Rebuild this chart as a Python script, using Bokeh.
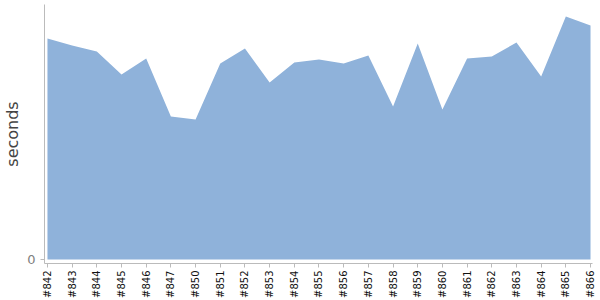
import math
from bokeh.plotting import figure
from bokeh.models import Range1d, FixedTicker, ColumnDataSource
from bokeh.embed import file_html
from bokeh.resources import INLINE

builds = ["#842", "#843", "#844", "#845", "#846", "#847", "#850", "#851", "#852",
          "#853", "#854", "#855", "#856", "#857", "#858", "#859", "#860", "#861",
          "#862", "#863", "#864", "#865", "#866"]
seconds = [221, 214, 208, 185, 201, 143, 140, 196, 211, 177, 197, 200, 196, 204,
           153, 216, 150, 201, 203, 217, 183, 243, 234]

xs = list(range(len(builds)))
src = ColumnDataSource(dict(x=xs, y=seconds, base=[0] * len(xs)))

p = figure(width=600, height=300, output_backend="svg", toolbar_location=None,
           x_range=Range1d(-0.12, len(builds) - 1 + 0.08), y_range=Range1d(-4, 255),
           min_border_left=40, min_border_right=8, min_border_top=4, min_border_bottom=37)
p.outline_line_color = None
p.xgrid.visible = False
p.ygrid.visible = False

p.varea(x="x", y1="base", y2="y", source=src, fill_color="#8fb2da", fill_alpha=1.0)

p.xaxis.ticker = FixedTicker(ticks=xs)
p.xaxis.major_label_overrides = {i: b for i, b in enumerate(builds)}
p.xaxis.major_label_orientation = math.pi / 2
p.xaxis.major_label_text_font = "DejaVu Sans"
p.xaxis.major_label_text_font_size = "10px"
p.xaxis.major_label_text_color = "#111111"
p.xaxis.axis_line_color = "#bbbbbb"
p.xaxis.major_tick_line_color = "#bbbbbb"
p.xaxis.major_tick_in = 0
p.xaxis.major_tick_out = 4
p.xaxis.minor_tick_line_color = None
p.xaxis.major_label_standoff = 3

p.yaxis.ticker = FixedTicker(ticks=[0])
p.yaxis.axis_label = "seconds"
p.yaxis.axis_label_text_font = "DejaVu Sans"
p.yaxis.axis_label_text_font_size = "16px"
p.yaxis.axis_label_text_font_style = "normal"
p.yaxis.axis_label_text_color = "#444444"
p.yaxis.axis_label_standoff = 2
p.yaxis.major_label_text_font = "DejaVu Sans"
p.yaxis.major_label_text_font_size = "13px"
p.yaxis.major_label_text_color = "#808080"
p.yaxis.axis_line_color = "#bbbbbb"
p.yaxis.major_tick_line_color = "#bbbbbb"
p.yaxis.major_tick_in = 0
p.yaxis.major_tick_out = 4
p.yaxis.minor_tick_line_color = None
p.yaxis.major_label_standoff = 5

open("out.html", "w").write(file_html(p, INLINE))
